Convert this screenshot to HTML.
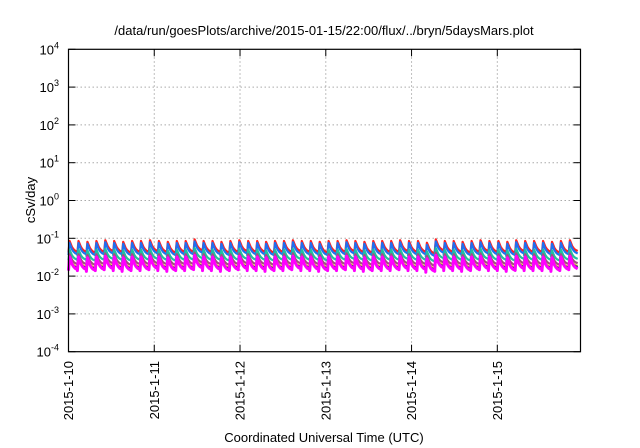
<!DOCTYPE html>
<html><head><meta charset="utf-8"><style>
body{margin:0;background:#fff}
svg{display:block;font-family:"Liberation Sans",sans-serif}
</style></head><body>
<svg id="chart" width="640" height="448" viewBox="0 0 640 448">
<text x="324" y="35" font-size="13" text-anchor="middle">/data/run/goesPlots/archive/2015-01-15/22:00/flux/../bryn/5daysMars.plot</text>
<g id="grid"></g>
<g id="series"></g>
<rect x="68.5" y="49.3" width="512" height="302.4" fill="none" stroke="#000" stroke-width="1.2"/>
<g id="axes"></g>
<text transform="translate(35,200) rotate(-90)" font-size="13" text-anchor="middle">cSv/day</text>
<text x="324" y="442" font-size="13" text-anchor="middle">Coordinated Universal Time (UTC)</text>
</svg>
<script>
const yExponents=[4,3,2,1,0,-1,-2,-3,-4];
const xTickLabels=["2015-1-10","2015-1-11","2015-1-12","2015-1-13","2015-1-14","2015-1-15"];
const xTickDays=[0,1,2,3,4,5];
const seriesColors=["#ff2020","#2070f0","#20c0a0","#a05080","#e0d020","#202090","#ff00ff"];
const seriesPeaks=[0.085,0.075,0.05,0.038,0.03,0.028,0.032];
const seriesTroughs=[0.042,0.036,0.026,0.02,0.017,0.016,0.014];
const cycleScale=[1,1,0.95,1,1.05,1,0.95,1,1,1.05,1,0.95,1,1,1.1,1,1,0.95,1,1.05,1,1,0.95,1,1,1.05,1,1,0.95,1,1,1.05,1,0.95,1,1,1,1.05,1,1,0.9,1.1,1,1,0.95,1,1.05,1,1,0.95,1.05,1,1,1,0.95,1,1.05];
const cycleHours=2.5;
const X0=68.5,X1=580.5,Y0=49.3,Y1=351.7,DAYS=5.97;
const xs=d=>X0+(d/DAYS)*(X1-X0);
const ys=v=>Y0+(4-Math.log10(v))*(Y1-Y0)/8;
const NS="http://www.w3.org/2000/svg";
const mk=(t,a,p)=>{const e=document.createElementNS(NS,t);for(const k in a)e.setAttribute(k,a[k]);p.appendChild(e);return e;};
const grid=document.getElementById('grid'),axes=document.getElementById('axes'),ser=document.getElementById('series');
yExponents.forEach(ex=>{
  const y=ys(Math.pow(10,ex));
  if(ex<4&&ex>-4){const g=mk('line',{x1:X0,x2:X1,y1:y,y2:y,stroke:'#aaa','stroke-dasharray':'1.5,2.5','stroke-width':1},grid);
  
  }
  const t1=mk('line',{x1:X0,x2:X0+7,y1:y,y2:y,stroke:'#000'},axes);
  
  
  const t2=mk('line',{x1:X1-7,x2:X1,y1:y,y2:y,stroke:'#000'},axes);
  
  
  const tx=mk('text',{x:59,y:y+5,'font-size':13,'text-anchor':'end'},axes);
  
  
  tx.textContent='10';
  const sp=mk('tspan',{dy:-6,'font-size':9},tx);sp.textContent=String(ex).replace('-','−').replace('−','-');
});
xTickDays.forEach((d,i)=>{
  const x=xs(d);
  if(d>0){const g=mk('line',{x1:x,x2:x,y1:Y0,y2:Y1,stroke:'#aaa','stroke-dasharray':'1.5,2.5'},grid);
  
  }
  const t1=mk('line',{x1:x,x2:x,y1:Y1-7,y2:Y1,stroke:'#000'},axes);
  
  
  const t2=mk('line',{x1:x,x2:x,y1:Y0,y2:Y0+7,stroke:'#000'},axes);
  
  
  const tx=mk('text',{transform:`translate(${x+4.5},361) rotate(-90)`,'font-size':13,'text-anchor':'end'},axes);
  
  
  tx.textContent=xTickLabels[i];
});
seriesColors.forEach((c,s)=>{
  let pts=[];
  cycleScale.forEach((m,k)=>{
    const t0=k*cycleHours/24, dt=cycleHours/24;
    const pk=seriesPeaks[s]*m, tr=seriesTroughs[s]*m;
    pts.push([t0,tr]);pts.push([t0+dt*0.12,pk]);
    [0.3,0.5,0.7,1].forEach(f=>pts.push([t0+dt*(0.12+0.88*f),tr+(pk-tr)*Math.exp(-3*f)*(1-f*0.05)]));
  });
  const d=pts.filter(p=>p[0]<=DAYS).map((p,i)=>(i?'L':'M')+xs(p[0]).toFixed(1)+','+ys(p[1]).toFixed(1)).join('');
  const path=mk('path',{d,fill:'none',stroke:c,'stroke-width':s==6?3:2.2,'stroke-linejoin':'round'},ser);
  
  
});
</script>
</body></html>
